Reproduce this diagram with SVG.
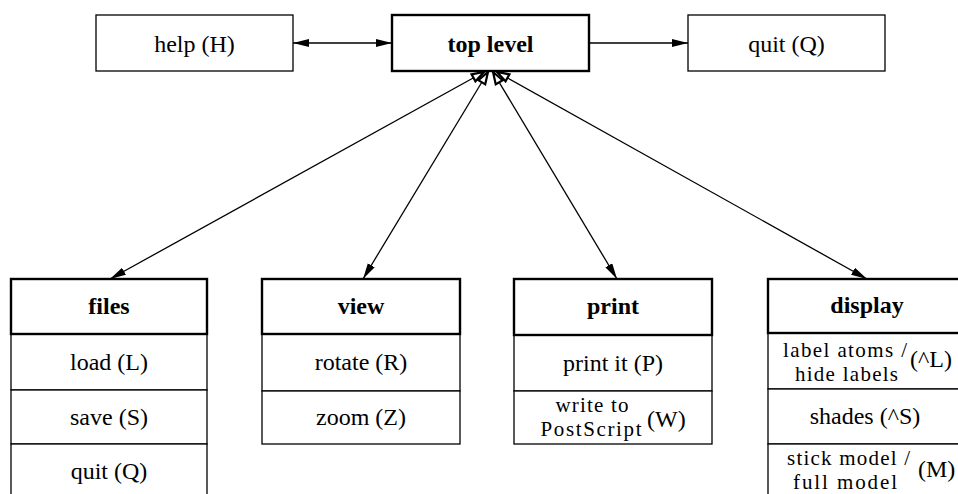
<svg xmlns="http://www.w3.org/2000/svg" width="958" height="494" viewBox="0 0 958 494" font-family="'Liberation Serif', 'Times New Roman', 'DejaVu Serif', serif">
<style>
text{font-family:'Liberation Serif','Times New Roman','DejaVu Serif',serif;font-size:24px;fill:#000}
.c{text-anchor:middle}
.b{font-weight:bold}
.s{font-size:21px}
.thin{fill:#fff;stroke:#000;stroke-width:1.3}
.thick{fill:#fff;stroke:#000;stroke-width:2.4}
.ln{fill:none;stroke:#000;stroke-width:1.3}
</style>
<defs>
<marker id="fa" markerUnits="userSpaceOnUse" markerWidth="18" markerHeight="10" refX="16" refY="4" orient="auto-start-reverse">
<path d="M0,0 L16,4 L0,8 z" fill="#000"/>
</marker>
<marker id="ha" markerUnits="userSpaceOnUse" markerWidth="18" markerHeight="14" refX="13" refY="5" orient="auto-start-reverse" overflow="visible">
<path d="M1,1 L13,5 L1,9 z" fill="#fff" stroke="#000" stroke-width="2.2"/>
</marker>
</defs>
<rect width="958" height="494" fill="#fff"/>
<g id="connectors">
<line class="ln" x1="293" y1="43" x2="392" y2="43" marker-start="url(#fa)" marker-end="url(#fa)"/>
<line class="ln" x1="589" y1="43" x2="688" y2="43" marker-end="url(#fa)"/>
<line class="ln" x1="484" y1="72" x2="110" y2="279" marker-start="url(#ha)" marker-end="url(#fa)"/>
<line class="ln" x1="488" y1="72" x2="363" y2="279" marker-start="url(#ha)" marker-end="url(#fa)"/>
<line class="ln" x1="493" y1="72" x2="617" y2="279" marker-start="url(#ha)" marker-end="url(#fa)"/>
<line class="ln" x1="497" y1="72" x2="867" y2="279" marker-start="url(#ha)" marker-end="url(#fa)"/>
</g>
<g id="help">
<rect class="thin" x="96" y="15" width="197" height="56"/>
<text class="c" x="194.5" y="52">help (H)</text>
</g>
<g id="toplevel">
<rect class="thick" x="392" y="15" width="197" height="56"/>
<text class="c b" x="490.5" y="52">top level</text>
</g>
<g id="quit">
<rect class="thin" x="688" y="15" width="197" height="56"/>
<text class="c" x="786.5" y="52">quit (Q)</text>
</g>
<g id="files">
<rect class="thin" x="11" y="334" width="196" height="56"/>
<rect class="thin" x="11" y="390" width="196" height="54"/>
<rect class="thin" x="11" y="444" width="196" height="56"/>
<rect class="thick" x="11" y="279" width="196" height="55"/>
<text class="c b" x="109" y="314">files</text>
<text class="c" x="109" y="370">load (L)</text>
<text class="c" x="109" y="425">save (S)</text>
<text class="c" x="109" y="479">quit (Q)</text>
</g>
<g id="view">
<rect class="thin" x="262" y="334" width="198" height="57"/>
<rect class="thin" x="262" y="391" width="198" height="53"/>
<rect class="thick" x="262" y="279" width="198" height="55"/>
<text class="c b" x="361" y="314">view</text>
<text class="c" x="361" y="370">rotate (R)</text>
<text class="c" x="361" y="425">zoom (Z)</text>
</g>
<g id="print">
<rect class="thin" x="514" y="335" width="198" height="56"/>
<rect class="thin" x="514" y="391" width="198" height="53"/>
<rect class="thick" x="514" y="279" width="198" height="56"/>
<text class="c b" x="613" y="314">print</text>
<text class="c" x="613" y="371">print it (P)</text>
<text class="c s" x="592" y="412" textLength="73" lengthAdjust="spacing">write to</text>
<text class="c s" x="591" y="436" textLength="101" lengthAdjust="spacing">PostScript</text>
<text x="647" y="427">(W)</text>
</g>
<g id="display">
<rect class="thin" x="768" y="333" width="197" height="56"/>
<rect class="thin" x="768" y="389" width="197" height="55"/>
<rect class="thin" x="768" y="444" width="197" height="56"/>
<rect class="thick" x="768" y="279" width="197" height="54"/>
<text class="c b" x="867" y="313">display</text>
<text class="c s" x="845" y="357" textLength="124" lengthAdjust="spacing">label atoms /</text>
<text x="910" y="367">(^L)</text>
<text class="c s" x="846.5" y="381" textLength="103" lengthAdjust="spacing">hide labels</text>
<text class="c" x="865" y="424">shades (^S)</text>
<text class="c s" x="848.5" y="465" textLength="123" lengthAdjust="spacing">stick model /</text>
<text x="918" y="477">(M)</text>
<text class="c s" x="845" y="489" textLength="104" lengthAdjust="spacing">full model</text>
</g>
</svg>
